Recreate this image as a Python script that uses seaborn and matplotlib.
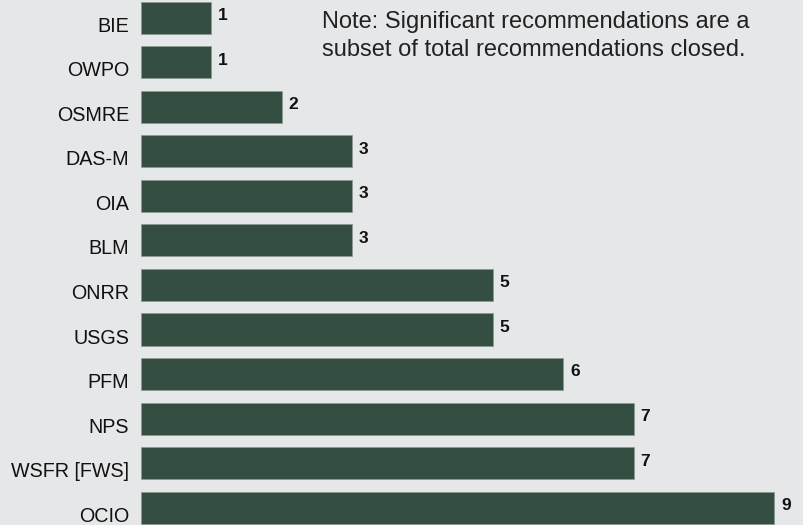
import matplotlib
matplotlib.use("Agg")
import matplotlib.pyplot as plt
import matplotlib.transforms as mtransforms
import seaborn as sns
import pandas as pd

offices = ["BIE", "OWPO", "OSMRE", "DAS-M", "OIA", "BLM", "ONRR", "USGS", "PFM", "NPS", "WSFR [FWS]", "OCIO"]
closed = [1, 1, 2, 3, 3, 3, 5, 5, 6, 7, 7, 9]
note = "Note: Significant recommendations are a\nsubset of total recommendations closed."

bg = "#e6e7e9"
bar_color = "#344f42"

sns.set_theme(style="white")
plt.rcParams["font.family"] = ["Liberation Sans", "DejaVu Sans"]

df = pd.DataFrame({"office": offices, "closed": closed})

fig = plt.figure(figsize=(8.04, 5.25), dpi=100, facecolor=bg)
ax = fig.add_axes([141 / 804, 0, 1 - 141 / 804, 1])
ax.set_facecolor(bg)

sns.barplot(data=df, x="closed", y="office", orient="h", color=bar_color,
            saturation=1, width=0.72, edgecolor="#8a9a90", linewidth=0.6, ax=ax)

ax.set_xlim(0, 9.42)
ax.set_ylim(11.39, -0.40)
for s in ax.spines.values():
    s.set_visible(False)
ax.set_xticks([])
ax.set_xlabel("")
ax.set_ylabel("")
ax.tick_params(axis="y", length=0, pad=8.5, labelsize=14.2, labelcolor="#111111")
offset = mtransforms.ScaledTranslation(0, -6.5 / 100, fig.dpi_scale_trans)
for lbl in ax.get_yticklabels():
    lbl.set_transform(lbl.get_transform() + offset)

for i, v in enumerate(closed):
    ax.annotate(str(v), xy=(v, i), xytext=(5, 1.5), textcoords="offset points",
                ha="left", va="center", fontsize=12.5, fontweight="bold", color="#111111")

fig.text(322 / 804, 1 - 11 / 525, note, ha="left", va="top", fontsize=17,
         color="#222222", linespacing=1.33)

fig.savefig("out.png", dpi=100, facecolor=bg)
